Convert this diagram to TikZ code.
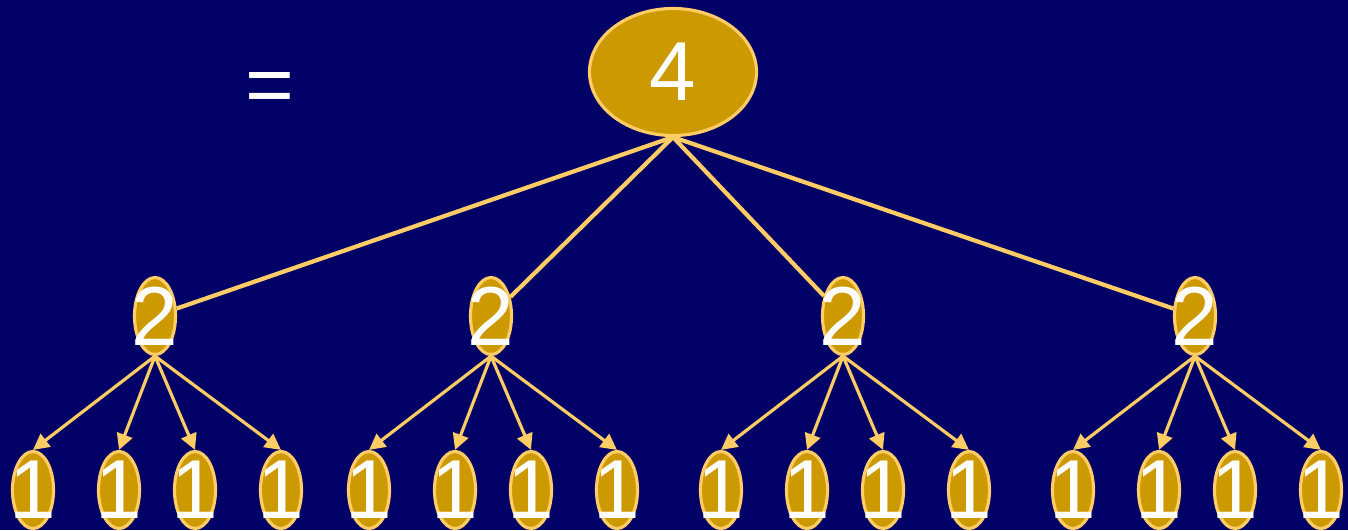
\documentclass[tikz,border=0pt]{standalone}
\usepackage{fontspec}
\setmainfont{Liberation Sans}
\usetikzlibrary{shapes.geometric,arrows.meta,backgrounds}
\definecolor{navy}{HTML}{000066}
\definecolor{nodegold}{HTML}{CC9900}
\definecolor{linegold}{HTML}{FFCC66}
\tikzset{
  digit/.style={text=white,font=\fontsize{23.8}{28}\selectfont,inner sep=0pt},
  oval/.style={ellipse,draw=linegold,fill=nodegold,line width=0.9pt,inner sep=0pt,
    minimum width=0.41cm,minimum height=0.77cm,label={[digit]center:#1}},
  bigoval/.style={oval=#1,minimum width=1.67cm,minimum height=1.27cm},
  topline/.style={linegold,line width=1.2pt},
  subarrow/.style={linegold,line width=0.9pt,-{Triangle[length=0.16cm,width=0.16cm]}}
}
\begin{document}
\begin{tikzpicture}
  % Background and picture size
  \useasboundingbox (0,0) rectangle (13.48,5.30);
  \begin{scope}[on background layer]
    \fill[navy] (0,0) rectangle (13.48,5.30);
  \end{scope}

  % Top node and the equals sign
  \node[bigoval=4] (top) at (6.73,4.58) {};
  \node[digit] (eq) at (2.70,4.37) {=};

  % Second level, each with four leaves
  \foreach \i/\x in {1/1.55,2/4.91,3/8.43,4/11.95}{
    \node[oval=2] (two\i) at (\x,2.14) {};
    \begin{scope}[on background layer]
      \draw[topline] (top.south) -- (two\i);
    \end{scope}
    \foreach \j/\dx in {1/-1.22,2/-0.36,3/0.40,4/1.26}{
      \node[oval=1] (one\i\j) at (\x+\dx,0.40) {};
      \draw[subarrow] (two\i.south) -- (one\i\j.north);
    }
  }
\end{tikzpicture}
\end{document}
